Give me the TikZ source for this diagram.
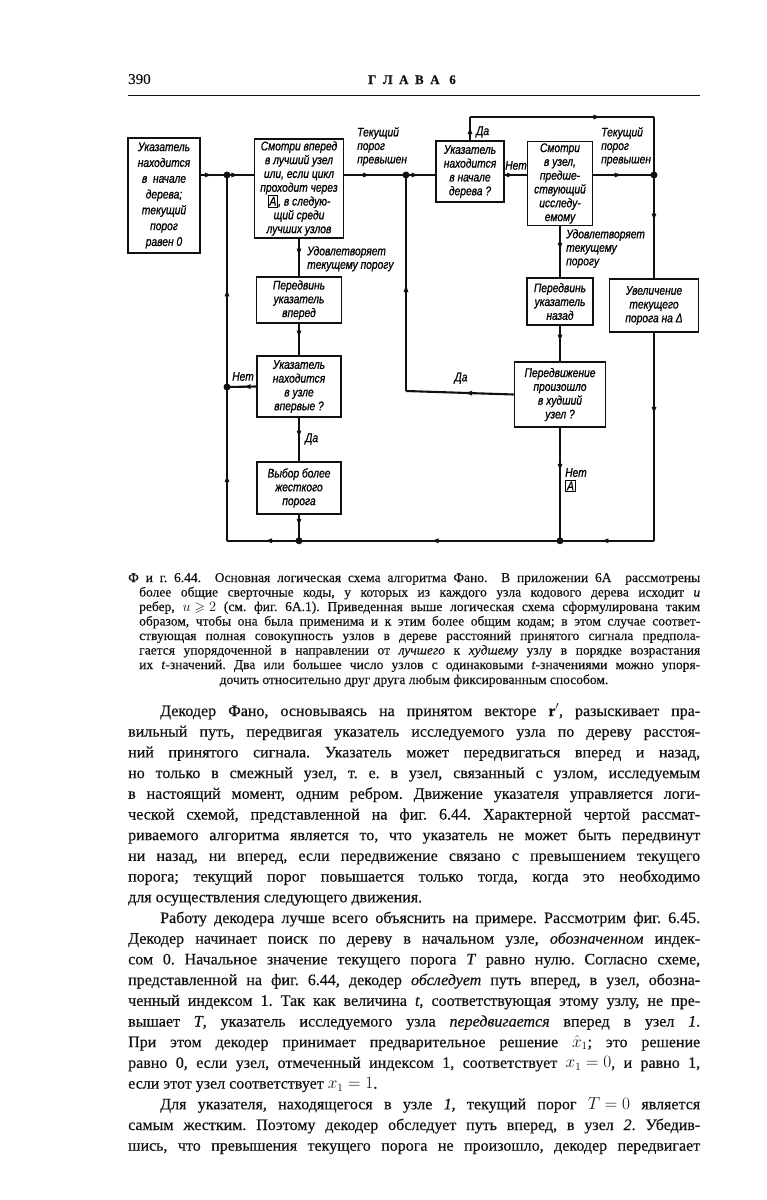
\documentclass[tikz,border=0pt]{standalone}
\usepackage{amssymb}
\usepackage{fontspec}
\setmainfont{Liberation Serif}[FakeBold=0.4]
\newfontfamily\dgfont{Liberation Sans}[FakeStretch=0.82,FakeBold=0.8]
\usetikzlibrary{arrows.meta,decorations.markings}
\definecolor{ink}{HTML}{111111}
\setlength{\fboxsep}{1pt}
\setlength{\fboxrule}{0.9pt}
\newcommand{\boxA}{\fbox{A}}
\frenchspacing
\tikzset{
  box/.style={draw=ink,line width=1.5pt,fill=white,inner sep=2pt,align=center,font=\dgfont\itshape\fontsize{12.5}{13.8}\selectfont},
  lbl/.style={align=left,inner sep=0pt,font=\dgfont\itshape\fontsize{12.5}{13.5}\selectfont},
  flow/.style={draw=ink,line width=2.1pt,postaction={decorate},
    decoration={markings,mark=at position #1 with {\arrow{Latex[length=9pt,width=5pt]}}}},
  flow/.default=0.5,
  wire/.style={draw=ink,line width=2.1pt},
  jn/.style={circle,fill=ink,inner sep=0pt,minimum size=7pt},
  txt/.style={inner sep=0pt,anchor=base west,text=ink,font=\fontsize{16}{20}\selectfont},
  captxt/.style={inner sep=0pt,anchor=base west,text=ink,font=\fontsize{13.5}{14.5}\selectfont}}

\begin{document}
\begin{tikzpicture}[x=1pt,y=-1pt]
  \fill[white] (0,0) rectangle (767,1200);
  \useasboundingbox (0,0) rectangle (767,1200);
  % running head
  \node[txt,font=\fontsize{15}{18}\selectfont] (pg) at (128,84) {390};
  \node[inner sep=0pt,anchor=base,text=ink,font=\bfseries\fontsize{13}{16}\selectfont] (ch) at (412,84) {Г\ \ Л\ \ А\ \ В\ \ А\ \ \ 6};
  \draw[ink,line width=0.7pt] (128,95) -- (700,95);
  % boxes
  \node[box,minimum width=72pt,minimum height=115pt,font=\dgfont\itshape\fontsize{12.5}{15.8}\selectfont] (start) at (164,195.5)
    {Указатель\\находится\\в \ начале\\дерева;\\текущий\\порог\\равен 0};
  \node[box,minimum width=89pt,minimum height=99pt] (fwd) at (299,188.5)
    {Смотри вперед\\в лучший узел\\или, если цикл\\проходит через\\\boxA, в следую-\\щий среди\\лучших узлов};
  \node[box,minimum width=68pt,minimum height=61pt] (root) at (470,171.5)
    {Указатель\\находится\\в начале\\дерева ?};
  \node[box,minimum width=65pt,minimum height=83pt] (back) at (560,183.5)
    {Смотри\\в узел,\\предше-\\ствующий\\исследу-\\емому};
  \node[box,minimum width=66pt,minimum height=47pt] (mvb) at (560,301.5)
    {Передвинь\\указатель\\назад};
  \node[box,minimum width=89pt,minimum height=53pt] (inc) at (654,305.5)
    {Увеличение\\текущего\\порога на Δ};
  \node[box,minimum width=91pt,minimum height=65pt] (worse) at (560,394.5)
    {Передвижение\\произошло\\в худший\\узел ?};
  \node[box,minimum width=85pt,minimum height=46pt] (mvf) at (299,300)
    {Передвинь\\указатель\\вперед};
  \node[box,minimum width=84pt,minimum height=61pt] (first) at (299,386.5)
    {Указатель\\находится\\в узле\\впервые ?};
  \node[box,minimum width=84pt,minimum height=52pt] (tight) at (299,488)
    {Выбор более\\жесткого\\порога};
  % junctions and corners
  \coordinate (j1) at (227,175);
  \coordinate (j2) at (406,175);
  \coordinate (j4) at (654,175);
  \coordinate (j3) at (227,387);
  \coordinate (tl) at (470,117);
  \coordinate (tr) at (654,117);
  \coordinate (jda) at (406,391);
  \coordinate (b7) at ([yshift=-26pt]tight.south);
  \coordinate (b6) at (worse.south |- b7);
  \coordinate (bl) at (j1 |- b7);
  \coordinate (br) at (inc.south |- b7);
  % connectors
  \draw[flow] (start.east |- j1) -- (j1);
  \draw[flow] (j1) -- (fwd.west |- j1);
  \draw[flow=0.45] (fwd.east |- j1) -- (j2);
  \draw[flow] (j2) -- (root.west |- j2);
  \draw[flow=0.65] (root.north) -- (tl);
  \draw[flow=0.72] (tl) -- (tr);
  \draw[wire] (tr) -- (j4);
  \draw[flow] (root.east |- j2) -- (back.west |- j2);
  \draw[flow] (back.east |- j4) -- (j4);
  \draw[flow=0.46] (j4) -- (inc.north);
  \draw[flow] (back.south) -- (mvb.north);
  \draw[flow] (mvb.south) -- (worse.north);
  \draw[flow=0.47] (worse.west) -- (jda);
  \draw[flow] (jda) -- (j2);
  \draw[flow=0.4] (inc.south) -- (br);
  \draw[flow=0.58] (br) -- (b6);
  \draw[flow=0.4] (worse.south) -- (b6);
  \draw[flow] (b6) -- (b7);
  \draw[flow] (tight.south) -- (b7);
  \draw[flow] (b7) -- (bl);
  \draw[flow=0.44] (bl) -- (j3);
  \draw[flow=0.47] (j3) -- (j1);
  \draw[flow] (fwd.south) -- (mvf.north);
  \draw[flow] (mvf.south) -- (first.north);
  \draw[flow] (first.west) -- (j3);
  \draw[flow] (first.south) -- (tight.north);
  \foreach \j in {j1,j2,j4,j3,b6,b7} \node[jn] at (\j) {};
  % connector labels
  \node[lbl,anchor=north west] (exc1) at (357,127) {Текущий\\порог\\превышен};
  \node[lbl,anchor=north west] (exc2) at (601,127) {Текущий\\порог\\превышен};
  \node[lbl,anchor=west] (yes1) at (476,132) {Да};
  \node[lbl,anchor=south] (no1) at (516,170) {Нет};
  \node[lbl,anchor=north west] (ok1) at (307,246) {Удовлетворяет\\текущему порогу};
  \node[lbl,anchor=north west] (ok2) at (566,229) {Удовлетворяет\\текущему\\порогу};
  \node[lbl,anchor=south] (yes2) at (461,384) {Да};
  \node[lbl,anchor=south] (no2) at (243,381) {Нет};
  \node[lbl,anchor=west] (yes3) at (305,439) {Да};
  \node[lbl,anchor=north west] (no3) at (565,468) {Нет\\\boxA};
  % caption
  \node[captxt] (c1) at (128,582) {\makebox[572pt][s]{Ф и г. 6.44. \ Основная логическая схема алгоритма Фано. \ В приложении 6А \ рассмотрены}};
  \node[captxt] (c2) at (139,596.5) {\makebox[561pt][s]{более общие сверточные коды, у которых из каждого узла кодового дерева исходит \textit{u}}};
  \node[captxt] (c3) at (139,611) {\makebox[561pt][s]{ребер, \mbox{$u \geqslant 2$} (см. фиг. 6А.1). Приведенная выше логическая схема сформулирована таким}};
  \node[captxt] (c4) at (139,625.5) {\makebox[561pt][s]{образом, чтобы она была применима и к этим более общим кодам; в этом случае соответ-}};
  \node[captxt] (c5) at (139,640) {\makebox[561pt][s]{ствующая полная совокупность узлов в дереве расстояний принятого сигнала предпола-}};
  \node[captxt] (c6) at (139,654.5) {\makebox[561pt][s]{гается упорядоченной в направлении от \textit{лучшего} к \textit{худшему} узлу в порядке возрастания}};
  \node[captxt] (c7) at (139,669) {\makebox[561pt][s]{их \textit{t}-значений. Два или большее число узлов с одинаковыми \textit{t}-значениями можно упоря-}};
  \node[captxt,anchor=base] (c8) at (414,684) {дочить относительно друг друга любым фиксированным способом.};
  % body text
  \node[txt] (t1) at (160,716) {\makebox[540pt][s]{Декодер Фано, основываясь на принятом векторе \textbf{r}$'$, разыскивает пра-}};
  \node[txt] (t2) at (128,736.7) {\makebox[572pt][s]{вильный путь, передвигая указатель исследуемого узла по дереву расстоя-}};
  \node[txt] (t3) at (128,757.4) {\makebox[572pt][s]{ний принятого сигнала. Указатель может передвигаться вперед и назад,}};
  \node[txt] (t4) at (128,778.1) {\makebox[572pt][s]{но только в смежный узел, т. е. в узел, связанный с узлом, исследуемым}};
  \node[txt] (t5) at (128,798.8) {\makebox[572pt][s]{в настоящий момент, одним ребром. Движение указателя управляется логи-}};
  \node[txt] (t6) at (128,819.5) {\makebox[572pt][s]{ческой схемой, представленной на фиг. 6.44. Характерной чертой рассмат-}};
  \node[txt] (t7) at (128,840.2) {\makebox[572pt][s]{риваемого алгоритма является то, что указатель не может быть передвинут}};
  \node[txt] (t8) at (128,860.9) {\makebox[572pt][s]{ни назад, ни вперед, если передвижение связано с превышением текущего}};
  \node[txt] (t9) at (128,881.6) {\makebox[572pt][s]{порога; текущий порог повышается только тогда, когда это необходимо}};
  \node[txt] (t10) at (128,902.3) {для осуществления следующего движения.};
  \node[txt] (t11) at (160,923) {\makebox[540pt][s]{Работу декодера лучше всего объяснить на примере. Рассмотрим фиг. 6.45.}};
  \node[txt] (t12) at (128,943.7) {\makebox[572pt][s]{Декодер начинает поиск по дереву в начальном узле, \textit{обозначенном} индек-}};
  \node[txt] (t13) at (128,964.4) {\makebox[572pt][s]{сом 0. Начальное значение текущего порога \textit{T} равно нулю. Согласно схеме,}};
  \node[txt] (t14) at (128,985.1) {\makebox[572pt][s]{представленной на фиг. 6.44, декодер \textit{обследует} путь вперед, в узел, обозна-}};
  \node[txt] (t15) at (128,1005.8) {\makebox[572pt][s]{ченный индексом 1. Так как величина \textit{t}, соответствующая этому узлу, не пре-}};
  \node[txt] (t16) at (128,1026.5) {\makebox[572pt][s]{вышает \textit{T}, указатель исследуемого узла \textit{передвигается} вперед в узел \textit{1}.}};
  \node[txt] (t17) at (128,1047.2) {\makebox[572pt][s]{При этом декодер принимает предварительное решение \mbox{$\hat{x}_1$}; это решение}};
  \node[txt] (t18) at (128,1067.9) {\makebox[572pt][s]{равно 0, если узел, отмеченный индексом 1, соответствует \mbox{$x_1 = 0$}, и равно 1,}};
  \node[txt] (t19) at (128,1088.6) {если этот узел соответствует \mbox{$x_1 = 1$}.};
  \node[txt] (t20) at (160,1109.3) {\makebox[540pt][s]{Для указателя, находящегося в узле \textit{1}, текущий порог \mbox{$T = 0$} является}};
  \node[txt] (t21) at (128,1130) {\makebox[572pt][s]{самым жестким. Поэтому декодер обследует путь вперед, в узел \textit{2}. Убедив-}};
  \node[txt] (t22) at (128,1150.7) {\makebox[572pt][s]{шись, что превышения текущего порога не произошло, декодер передвигает}};
\end{tikzpicture}
\end{document}
